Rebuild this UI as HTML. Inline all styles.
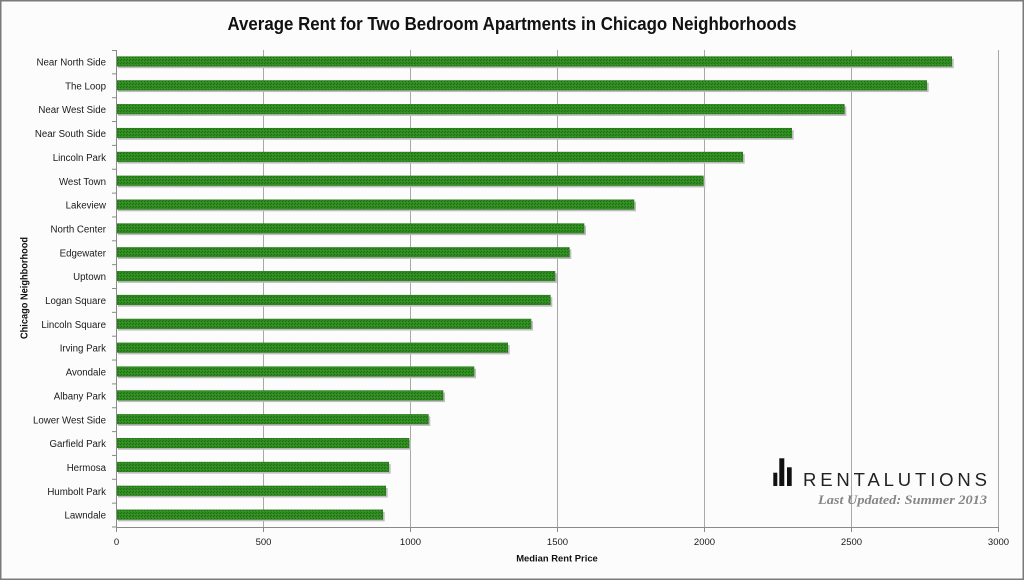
<!DOCTYPE html>
<html>
<head>
<meta charset="utf-8">
<style>
  html,body{margin:0;padding:0;background:#fff;}
  svg{display:block;}
  text{font-family:"Liberation Sans", sans-serif;}
</style>
</head>
<body>
<svg width="1024" height="580" viewBox="0 0 1024 580" xmlns="http://www.w3.org/2000/svg">
  <defs>
    <pattern id="tex" width="3" height="3" patternUnits="userSpaceOnUse">
      <rect width="3" height="3" fill="#2f8c20"/>
      <rect x="0" y="0" width="1" height="1" fill="#236a17"/>
      <rect x="2" y="1" width="1" height="1" fill="#3a9a2a"/>
      <rect x="1" y="2" width="1" height="1" fill="#246e18"/>
    </pattern>
  </defs>
  <rect x="0" y="0" width="1024" height="580" fill="#fcfcfc"/>
  <rect x="0.75" y="0.75" width="1022.5" height="578.5" fill="none" stroke="#7a7a7a" stroke-width="1.5"/>

  <!-- Title -->
  <text x="512" y="30" text-anchor="middle" font-size="18" font-weight="bold" fill="#111" textLength="569" lengthAdjust="spacingAndGlyphs">Average Rent for Two Bedroom Apartments in Chicago Neighborhoods</text>

  <!-- gridlines -->
  <g stroke="#a8a8a8" stroke-width="1">
    <line x1="263.5" y1="50" x2="263.5" y2="527"/>
    <line x1="410.5" y1="50" x2="410.5" y2="527"/>
    <line x1="557.5" y1="50" x2="557.5" y2="527"/>
    <line x1="704.5" y1="50" x2="704.5" y2="527"/>
    <line x1="851.5" y1="50" x2="851.5" y2="527"/>
    <line x1="998.5" y1="50" x2="998.5" y2="527"/>
  </g>

  <!-- Bars -->
  <g id="bars">
    <!-- shadows -->
    <g fill="#bdbdbd">
      <rect x="118" y="58.7" width="835.7" height="9.5"/>
      <rect x="118" y="82.55" width="810.7" height="9.5"/>
      <rect x="118" y="106.4" width="728.3" height="9.5"/>
      <rect x="118" y="130.25" width="675.7" height="9.5"/>
      <rect x="118" y="154.1" width="626.7" height="9.5"/>
      <rect x="118" y="177.95" width="587.3" height="9.5"/>
      <rect x="118" y="201.8" width="518" height="9.5"/>
      <rect x="118" y="225.65" width="468" height="9.5"/>
      <rect x="118" y="249.5" width="453.3" height="9.5"/>
      <rect x="118" y="273.35" width="439" height="9.5"/>
      <rect x="118" y="297.2" width="434.3" height="9.5"/>
      <rect x="118" y="321.05" width="415" height="9.5"/>
      <rect x="118" y="344.9" width="391.7" height="9.5"/>
      <rect x="118" y="368.75" width="358" height="9.5"/>
      <rect x="118" y="392.6" width="327" height="9.5"/>
      <rect x="118" y="416.45" width="312.3" height="9.5"/>
      <rect x="118" y="440.3" width="293" height="9.5"/>
      <rect x="118" y="464.15" width="272.7" height="9.5"/>
      <rect x="118" y="488" width="269.7" height="9.5"/>
      <rect x="118" y="511.85" width="266.7" height="9.5"/>
    </g>
    <g fill="url(#tex)" stroke="#2a7a1c" stroke-width="0.6">
      <rect x="117" y="56.7" width="834.7" height="9.5"/>
      <rect x="117" y="80.55" width="809.7" height="9.5"/>
      <rect x="117" y="104.4" width="727.3" height="9.5"/>
      <rect x="117" y="128.25" width="674.7" height="9.5"/>
      <rect x="117" y="152.1" width="625.7" height="9.5"/>
      <rect x="117" y="175.95" width="586.3" height="9.5"/>
      <rect x="117" y="199.8" width="517" height="9.5"/>
      <rect x="117" y="223.65" width="467" height="9.5"/>
      <rect x="117" y="247.5" width="452.3" height="9.5"/>
      <rect x="117" y="271.35" width="438" height="9.5"/>
      <rect x="117" y="295.2" width="433.3" height="9.5"/>
      <rect x="117" y="319.05" width="414" height="9.5"/>
      <rect x="117" y="342.9" width="390.7" height="9.5"/>
      <rect x="117" y="366.75" width="357" height="9.5"/>
      <rect x="117" y="390.6" width="326" height="9.5"/>
      <rect x="117" y="414.45" width="311.3" height="9.5"/>
      <rect x="117" y="438.3" width="292" height="9.5"/>
      <rect x="117" y="462.15" width="271.7" height="9.5"/>
      <rect x="117" y="486" width="268.7" height="9.5"/>
      <rect x="117" y="509.85" width="265.7" height="9.5"/>
    </g>
  </g>

  <!-- axes -->
  <g stroke="#8a8a8a" stroke-width="1">
    <line x1="116.5" y1="50" x2="116.5" y2="527.5"/>
    <line x1="116.5" y1="527.5" x2="999" y2="527.5"/>
    <!-- y ticks -->
    <line x1="112" y1="50.5" x2="116.5" y2="50.5"/>
    <line x1="112" y1="73.85" x2="116.5" y2="73.85"/>
    <line x1="112" y1="97.7" x2="116.5" y2="97.7"/>
    <line x1="112" y1="121.55" x2="116.5" y2="121.55"/>
    <line x1="112" y1="145.4" x2="116.5" y2="145.4"/>
    <line x1="112" y1="169.25" x2="116.5" y2="169.25"/>
    <line x1="112" y1="193.1" x2="116.5" y2="193.1"/>
    <line x1="112" y1="216.95" x2="116.5" y2="216.95"/>
    <line x1="112" y1="240.8" x2="116.5" y2="240.8"/>
    <line x1="112" y1="264.65" x2="116.5" y2="264.65"/>
    <line x1="112" y1="288.5" x2="116.5" y2="288.5"/>
    <line x1="112" y1="312.35" x2="116.5" y2="312.35"/>
    <line x1="112" y1="336.2" x2="116.5" y2="336.2"/>
    <line x1="112" y1="360.05" x2="116.5" y2="360.05"/>
    <line x1="112" y1="383.9" x2="116.5" y2="383.9"/>
    <line x1="112" y1="407.75" x2="116.5" y2="407.75"/>
    <line x1="112" y1="431.6" x2="116.5" y2="431.6"/>
    <line x1="112" y1="455.45" x2="116.5" y2="455.45"/>
    <line x1="112" y1="479.3" x2="116.5" y2="479.3"/>
    <line x1="112" y1="503.15" x2="116.5" y2="503.15"/>
    <line x1="112" y1="527" x2="116.5" y2="527"/>
    <!-- x ticks -->
    <line x1="116.5" y1="527.5" x2="116.5" y2="532"/>
    <line x1="263.5" y1="527.5" x2="263.5" y2="532"/>
    <line x1="410.5" y1="527.5" x2="410.5" y2="532"/>
    <line x1="557.5" y1="527.5" x2="557.5" y2="532"/>
    <line x1="704.5" y1="527.5" x2="704.5" y2="532"/>
    <line x1="851.5" y1="527.5" x2="851.5" y2="532"/>
    <line x1="998.5" y1="527.5" x2="998.5" y2="532"/>
  </g>

  <!-- Y labels -->
  <g font-size="9.7" fill="#1a1a1a" text-anchor="end">
    <text x="106" y="65.5">Near North Side</text>
    <text x="106" y="89.35">The Loop</text>
    <text x="106" y="113.2">Near West Side</text>
    <text x="106" y="137.05">Near South Side</text>
    <text x="106" y="160.9">Lincoln Park</text>
    <text x="106" y="184.75">West Town</text>
    <text x="106" y="208.6">Lakeview</text>
    <text x="106" y="232.45">North Center</text>
    <text x="106" y="256.3">Edgewater</text>
    <text x="106" y="280.15">Uptown</text>
    <text x="106" y="304">Logan Square</text>
    <text x="106" y="327.85">Lincoln Square</text>
    <text x="106" y="351.7">Irving Park</text>
    <text x="106" y="375.55">Avondale</text>
    <text x="106" y="399.4">Albany Park</text>
    <text x="106" y="423.25">Lower West Side</text>
    <text x="106" y="447.1">Garfield Park</text>
    <text x="106" y="470.95">Hermosa</text>
    <text x="106" y="494.8">Humbolt Park</text>
    <text x="106" y="518.65">Lawndale</text>
  </g>

  <!-- X labels -->
  <g font-size="9.5" fill="#1a1a1a" text-anchor="middle">
    <text x="116.5" y="545">0</text>
    <text x="263.5" y="545">500</text>
    <text x="410.5" y="545">1000</text>
    <text x="557.5" y="545">1500</text>
    <text x="704.5" y="545">2000</text>
    <text x="851.5" y="545">2500</text>
    <text x="998.5" y="545">3000</text>
  </g>

  <text x="557" y="561.5" text-anchor="middle" font-size="9.5" font-weight="bold" fill="#111" textLength="81.6" lengthAdjust="spacingAndGlyphs">Median Rent Price</text>
  <text transform="translate(27.5,288) rotate(-90)" text-anchor="middle" font-size="9.7" font-weight="bold" fill="#111" textLength="102" lengthAdjust="spacingAndGlyphs">Chicago Neighborhood</text>

  <!-- Logo -->
  <g fill="#111">
    <rect x="773.3" y="472.7" width="4" height="13.3"/>
    <rect x="779.3" y="458.3" width="5" height="27.7"/>
    <rect x="787" y="467.3" width="4.7" height="18.7"/>
  </g>
  <text x="803" y="486" font-size="18.5" fill="#222" textLength="184" lengthAdjust="spacing" style="font-weight:normal">RENTALUTIONS</text>
  <text x="818" y="504" font-size="12.5" font-style="italic" font-weight="bold" fill="#858585" textLength="169" lengthAdjust="spacingAndGlyphs" style="font-family:'Liberation Serif', serif">Last Updated: Summer 2013</text>
</svg>
</body>
</html>
